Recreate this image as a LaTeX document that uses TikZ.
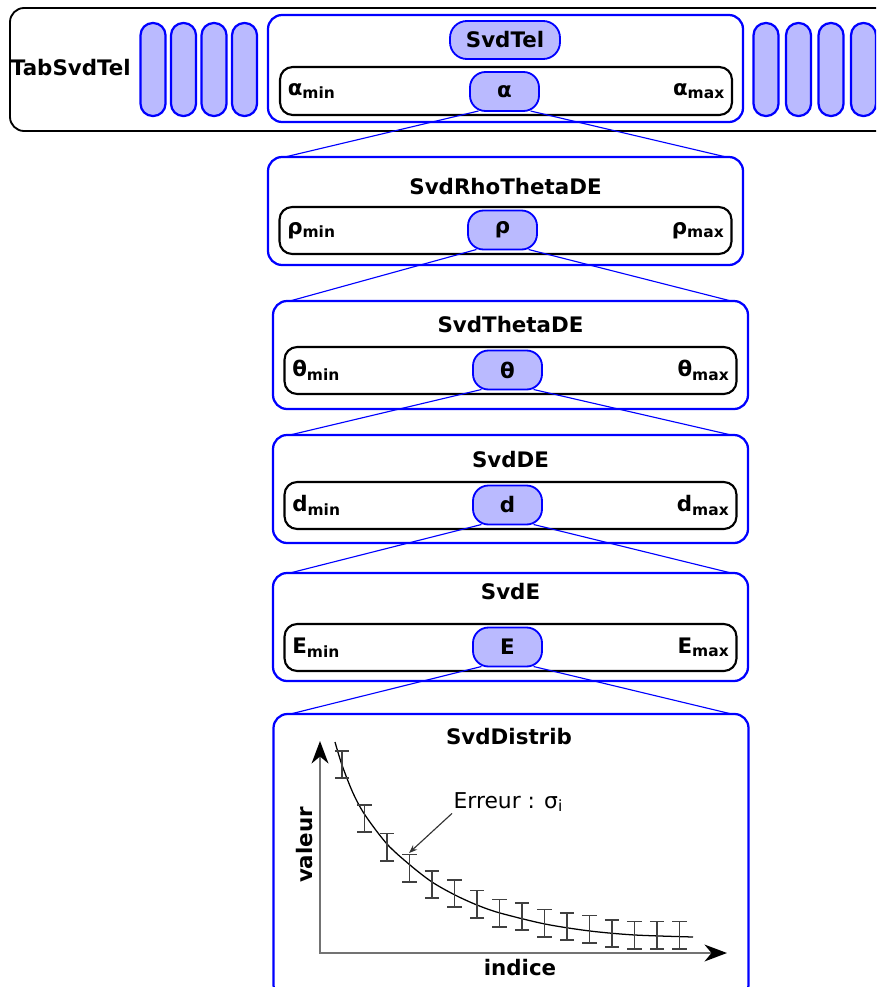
\documentclass[tikz,border=0pt]{standalone}
\usepackage{fontspec}
\setmainfont{DejaVu Sans}
\usetikzlibrary{positioning,arrows.meta}
\definecolor{svdblue}{HTML}{0000FF}
\definecolor{svdlilac}{HTML}{BABAFF}
\newlength{\pxu}\setlength{\pxu}{0.025cm}
\newcommand{\idx}[1]{\raisebox{-0.3ex}{\fontsize{11}{11}\selectfont #1}}
\tikzset{
  holder/.style={draw=svdblue, line width=1.6pt, rounded corners=10pt, fill=white, minimum width=475\pxu, minimum height=108\pxu, inner sep=0pt, outer sep=0pt},
  rangebar/.style={draw=black, line width=1.5pt, rounded corners=9pt, minimum width=452\pxu, minimum height=47\pxu, inner sep=0pt, outer sep=0pt},
  valpill/.style={draw=svdblue, fill=svdlilac, line width=1.3pt, rounded corners=11pt, minimum width=69\pxu, minimum height=39\pxu, inner sep=0pt, outer sep=0pt},
  slot/.style={draw=svdblue, fill=svdlilac, line width=1.6pt, rounded corners=8.7pt, minimum width=25\pxu, minimum height=93\pxu, inner sep=0pt},
  link/.style={draw=svdblue, line width=0.8pt},
  errbar/.style={black!75, line width=1.1pt, {Bar[width=10pt]}-{Bar[width=10pt]}},
  axis/.style={black!55, line width=1.3pt, {Stealth[length=16pt,width=12pt,inset=5pt,black]}-{Stealth[length=16pt,width=12pt,inset=5pt,black]}},
  pointer/.style={black!80, line width=0.8pt, -{Stealth[length=6pt,width=4.5pt]}}
}
\begin{document}
\begin{tikzpicture}[x=0.025cm,y=-0.025cm,font={\fontsize{15.2}{18}\selectfont\bfseries}]
\useasboundingbox (0,0) rectangle (876,987);
\clip (0,0) rectangle (876,987);

% table of telescopes
\node[draw, line width=1.3pt, rounded corners=10pt, minimum width=880\pxu, minimum height=123\pxu] (tab) at (450,69.5) {};
\node[anchor=west] (tab-lbl) at (6,68) {TabSvdTel};
\foreach \i/\x in {1/153,2/183.5,3/214,4/244.5}
  \node[slot] (slotL\i) at (\x,69.5) {};
\foreach \i/\x in {1/766,2/798.5,3/831,4/863.5}
  \node[slot] (slotR\i) at (\x,69.5) {};

\node[holder, minimum height=107\pxu] (tel-box) at (505.5,68.5) {};
\node[valpill, minimum width=110\pxu, minimum height=38\pxu, rounded corners=12pt] (tel) at (505,40) {SvdTel};
\node[rangebar, minimum height=48\pxu] (alpha-bar) at (506,91) {};
\node[valpill] (alpha-val) at (504.5,91.5) {α};
\node[anchor=west] (alpha-lo) at ([xshift=2pt]alpha-bar.west) {α\idx{min}};
\node[anchor=east] (alpha-hi) at ([xshift=-2pt]alpha-bar.east) {α\idx{max}};

% one level per variable
\foreach \nm/\ttl/\sy/\cx/\ty/\toff/\boff in {rho/SvdRhoThetaDE/ρ/505.5/157/30/50, theta/SvdThetaDE/θ/510.5/301/24/46, dd/SvdDE/d/510.5/435/25/47, ee/SvdE/E/510.5/573/19/51} {
  \node[holder] (\nm-box) at (\cx,\ty+54) {};
  \node (\nm-ttl) at (\cx,\ty+\toff) {\ttl};
  \node[rangebar] (\nm-bar) at (\cx,\ty+\boff+23.5) {};
  \node[valpill] (\nm-val) at (\cx-3,\ty+\boff+23) {\sy};
  \node[anchor=west] (\nm-lo) at ([xshift=2pt]\nm-bar.west) {\sy\idx{min}};
  \node[anchor=east] (\nm-hi) at ([xshift=-2pt]\nm-bar.east) {\sy\idx{max}};
}

% distribution
\node[holder, minimum height=285\pxu] (dist-box) at (511,856.5) {};
\node (dist-ttl) at (509,737) {SvdDistrib};

\foreach \a/\b in {alpha-val/rho-box, rho-val/theta-box, theta-val/dd-box, dd-val/ee-box, ee-val/dist-box} {
  \draw[link] ([xshift=6pt]\a.south west) -- ([xshift=12pt]\b.north west);
  \draw[link] ([xshift=-6pt]\a.south east) -- ([xshift=-12pt]\b.north east);
}

\coordinate (orig) at (320,953);
\coordinate (ytop) at (320,741);
\coordinate (xend) at (727,953);
\draw[axis] (ytop) -- (orig) -- (xend);
\draw[black, line width=0.9pt] plot[smooth] coordinates {(335,742) (342,765) (353,793) (365,815) (387,844) (410,865) (432,882) (455,895) (477,905) (500,913) (545,924) (590,931) (635,935) (693,937)};
\foreach \i/\y in {0/764.5,1/818.5,2/847,3/868,4/884.5,5/893.5,6/904,7/913,8/916.5,9/923,10/926.5,11/929,12/933.5,13/935,14/935,15/935}
  \draw[errbar] (342+22.5*\i,\y+14.5) -- (342+22.5*\i,\y-14.5);
\node[rotate=90] (val-lbl) at (305,845) {valeur};
\node (idx-lbl) at (520,968) {indice};
\node[anchor=west, inner sep=1pt, font={\fontsize{15.5}{18}\selectfont\mdseries}] (err-lbl) at (452,802) {Erreur : σ\idx{i}};
\coordinate (err-tip) at (409,853);
\draw[pointer] (err-lbl.south west) -- (err-tip);
\end{tikzpicture}
\end{document}
